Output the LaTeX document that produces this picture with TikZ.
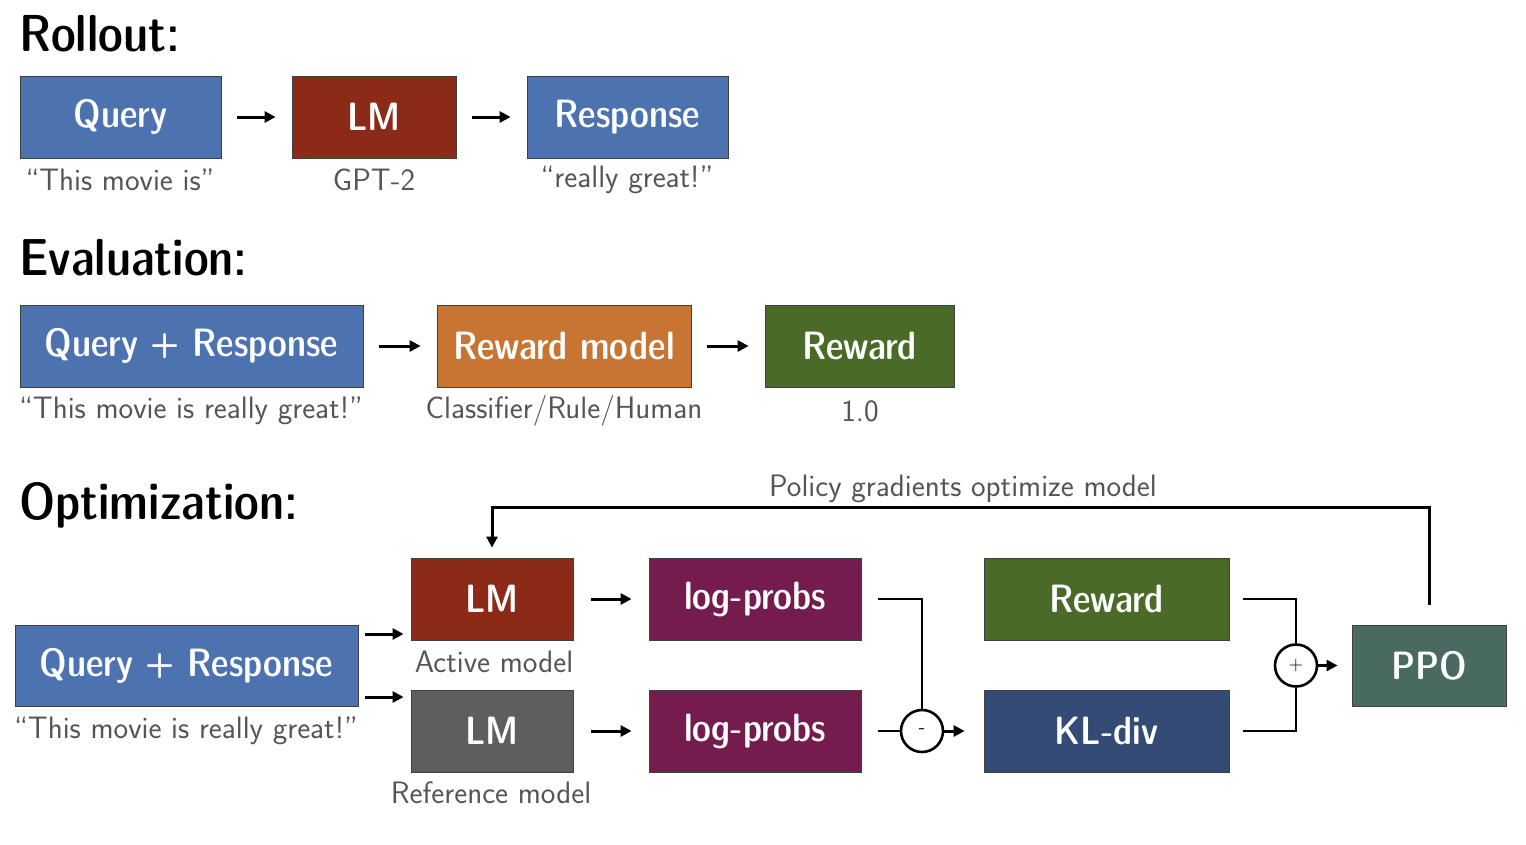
\documentclass[tikz,border=0pt]{standalone}
\usepackage{fontspec}
\setsansfont{Latin Modern Sans}
\newfontfamily\demicond{Latin Modern Sans Demi Cond}
\usetikzlibrary{arrows.meta}

\definecolor{qblue}{RGB}{76,114,176}
\definecolor{lmred}{RGB}{139,42,22}
\definecolor{rmorange}{RGB}{200,117,51}
\definecolor{rwgreen}{RGB}{74,107,40}
\definecolor{refgrey}{RGB}{94,94,94}
\definecolor{lppurple}{RGB}{116,28,77}
\definecolor{klnavy}{RGB}{52,75,118}
\definecolor{ppoteal}{RGB}{72,106,96}
\definecolor{subgrey}{RGB}{85,85,85}

\begin{document}
\begin{tikzpicture}[x=1pt, y=-1pt, >={Triangle[length=11pt,width=11pt]},
    box/.style={draw=black!75, line width=0.8pt, rectangle, minimum height=82pt, inner sep=0pt, text=white,
        font=\demicond\fontsize{39.5}{42}\selectfont},
    heading/.style={anchor=west, inner sep=0pt, font=\demicond\fontsize{52}{56}\selectfont},
    sub/.style={inner sep=0pt, text=subgrey, font=\sffamily\fontsize{31}{34}\selectfont},
    arrow/.style={->, line width=3pt, shorten <=16pt, shorten >=16pt},
    wire/.style={line width=2.6pt},
    op/.style={draw, circle, line width=2.6pt, minimum size=42pt, inner sep=0pt, font=\sffamily\fontsize{20}{22}\selectfont}]
    \useasboundingbox (0,0) rectangle (1526,844);

    % rollout
    \node[heading] (trollout) at (19,34) {Rollout:};
    \node[box,fill=qblue,minimum width=201pt] (query) at (120.5,117) {Query};
    \node[box,fill=lmred,minimum width=164pt] (lm) at (374,117) {LM};
    \node[box,fill=qblue,minimum width=201pt] (resp) at (627.5,117) {Response};
    \node[sub] (squery) at (120,180) {“This movie is”};
    \node[sub] (slm) at (374,180) {GPT-2};
    \node[sub] (sresp) at (627,180) {“really great!”};
    \draw[arrow] (query)--(lm);
    \draw[arrow] (lm)--(resp);

    % evaluation
    \node[heading] (teval) at (19,258) {Evaluation:};
    \node[box,fill=qblue,minimum width=343pt] (qr) at (191.5,346) {Query + Response};
    \node[box,fill=rmorange,minimum width=254pt] (rm) at (564,346) {Reward model};
    \node[box,fill=rwgreen,minimum width=189pt] (rw) at (859.5,346) {Reward};
    \node[sub] (sqr) at (191,411) {“This movie is really great!”};
    \node[sub] (srm) at (564,411) {Classifier/Rule/Human};
    \node[sub] (srw) at (860,411) {1.0};
    \draw[arrow] (qr)--(rm);
    \draw[arrow] (rm)--(rw);

    % optimization
    \node[heading] (topt) at (19,505) {Optimization:};
    \node[box,fill=qblue,minimum width=343pt,minimum height=81pt] (qr2) at (186.5,665.5) {Query + Response};
    \node[box,fill=lmred,minimum width=162pt] (lma) at (492,599) {LM};
    \node[box,fill=refgrey,minimum width=162pt] (lmr) at (492,731) {LM};
    \node[box,fill=lppurple,minimum width=212pt] (lp1) at (755,599) {log-probs};
    \node[box,fill=lppurple,minimum width=212pt] (lp2) at (755,731) {log-probs};
    \node[box,fill=rwgreen,minimum width=245pt] (rw2) at (1106.5,599) {Reward};
    \node[box,fill=klnavy,minimum width=245pt] (kl) at (1106.5,731) {KL-div};
    \node[box,fill=ppoteal,minimum width=154pt,minimum height=81pt] (ppo) at (1429,665.5) {PPO};
    \node[op] (minus) at (922,731) {-};
    \node[op] (plus) at (1296,665.5) {+};
    \node[sub] (sqr2) at (186,731) {“This movie is really great!”};
    \node[sub] (slma) at (494,662) {Active model};
    \node[sub] (slmr) at (491,793) {Reference model};
    \node[sub] (spg) at (963,489) {Policy gradients optimize model};
    \coordinate (fb) at (0,507);

    \draw[arrow,shorten <=7pt,shorten >=7pt] ([yshift=31.5pt]qr2.east)--([yshift=31.5pt]qr2.east -| lma.west);
    \draw[arrow,shorten <=7pt,shorten >=7pt] ([yshift=-31.5pt]qr2.east)--([yshift=-31.5pt]qr2.east -| lmr.west);
    \draw[arrow,shorten <=18pt,shorten >=17pt] (lma)--(lp1);
    \draw[arrow,shorten <=18pt,shorten >=17pt] (lmr)--(lp2);
    \draw[wire] ([xshift=17pt]lp1.east) -| (minus.north);
    \draw[wire] ([xshift=17pt]lp2.east) -- (minus.west);
    \draw[arrow,shorten <=0pt,shorten >=19pt] (minus)--(kl);
    \draw[wire] ([xshift=14pt]rw2.east) -| (plus.north);
    \draw[wire] ([xshift=14pt]kl.east) -| (plus.south);
    \draw[arrow,shorten <=0pt,shorten >=14pt] (plus)--(ppo);
    \draw[arrow,shorten <=0pt,shorten >=10pt] ([yshift=20pt]ppo.north) -- (ppo.north |- fb) -| (lma.north);
\end{tikzpicture}
\end{document}
